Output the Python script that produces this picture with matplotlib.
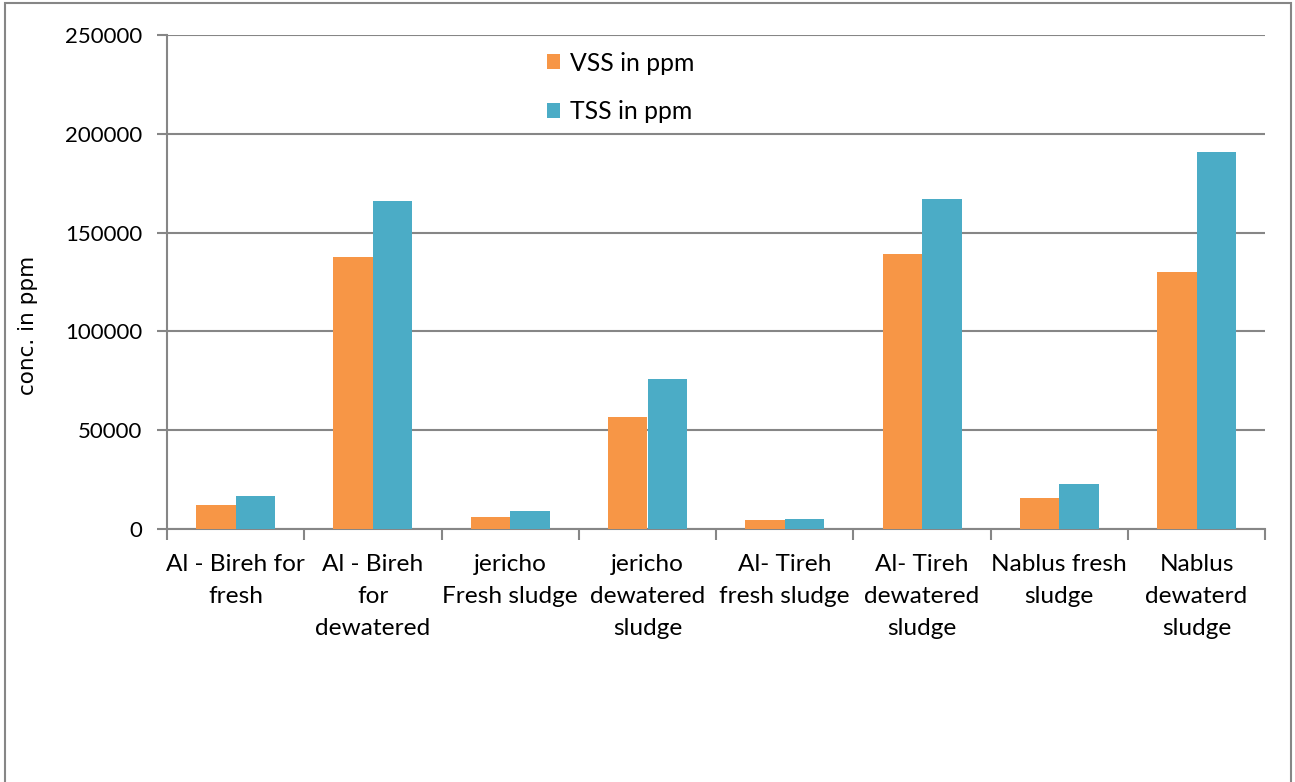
import matplotlib.pyplot as plt
from matplotlib.patches import Rectangle
import numpy as np

categories = ["Al - Bireh for\nfresh", "Al - Bireh\nfor\ndewatered",
              "jericho\nFresh sludge", "jericho\ndewatered\nsludge",
              "Al- Tireh\nfresh sludge", "Al- Tireh\ndewatered\nsludge",
              "Nablus fresh\nsludge", "Nablus\ndewaterd\nsludge"]
vss = [12400, 137500, 6000, 56800, 4500, 139300, 15600, 130200]
tss = [16900, 166300, 9100, 75700, 5300, 167000, 23000, 191000]

orange = "#F79646"
blue = "#4BACC6"
grid_col = "#868686"

fig = plt.figure(figsize=(12.95, 7.82), dpi=100)
ax = fig.add_axes([0.129, 0.3235, 0.848, 0.6315])

# outer chart frame
fig.patches.append(Rectangle((0.004, -0.01), 0.993, 1.006, transform=fig.transFigure,
                             fill=False, edgecolor=grid_col, linewidth=1.5))

x = np.arange(len(categories))
w = 0.288
ax.bar(x - w / 2, vss, w, color=orange, label="VSS in ppm", zorder=3)
ax.bar(x + w / 2, tss, w, color=blue, label="TSS in ppm", zorder=3)

ax.set_xlim(-0.5, len(categories) - 0.5)
ax.set_ylim(0, 250000)
ax.set_yticks(np.arange(0, 250001, 50000))
ax.yaxis.grid(True, color=grid_col, linewidth=1.5, zorder=0)
ax.set_axisbelow(True)

for s in ["top", "right"]:
    ax.spines[s].set_visible(False)
for s in ["left", "bottom"]:
    ax.spines[s].set_color(grid_col)
    ax.spines[s].set_linewidth(1.5)

ax.set_xticks(x)
ax.set_xticklabels(categories)
for lbl in ax.get_xticklabels():
    lbl.set_fontfamily("Lato")
    lbl.set_fontsize(17.6)
    lbl.set_linespacing(1.66)
ax.set_xticks(np.arange(-0.5, len(categories)), minor=True)
ax.tick_params(axis="x", which="major", length=0, pad=18)
ax.tick_params(axis="x", which="minor", length=8, width=1.5, color=grid_col, direction="out")
ax.tick_params(axis="y", length=7, width=1.5, color=grid_col, pad=11)
for lbl in ax.get_yticklabels():
    lbl.set_fontfamily("Lato")
    lbl.set_fontsize(16)

ax.set_ylabel("conc. in ppm", fontsize=15.5, family="DejaVu Sans")
ax.yaxis.set_label_coords(-0.1175, 0.413)

ax.legend(loc="upper left", bbox_to_anchor=(0.3255, 1.012), frameon=False,
          prop=dict(family="Lato", size=17.8), handlelength=0.55, handleheight=0.55,
          handletextpad=0.4, labelspacing=1.05)

fig.savefig("out.png", dpi=100)
